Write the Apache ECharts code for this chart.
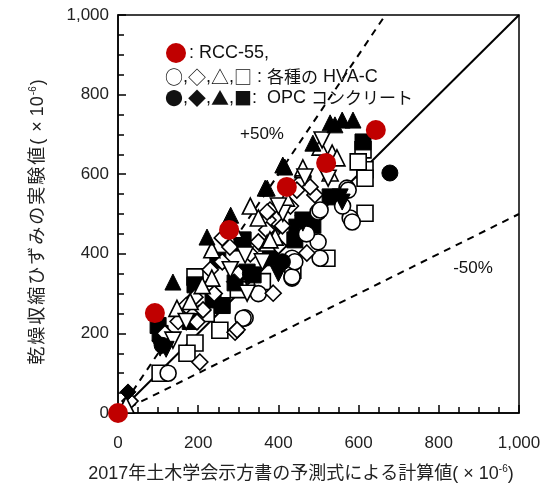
<!DOCTYPE html>
<html><head><meta charset="utf-8">
<script src="https://cdn.jsdelivr.net/npm/echarts@6/dist/echarts.min.js"></script>
<style>html,body{margin:0;padding:0;background:#fff}#c{width:548px;height:488px}</style>
</head><body><div id="c"></div>
<script>
const xTicks = [0, 200, 400, 600, 800, 1000];
const yTicks = [0, 200, 400, 600, 800, 1000];
const refLines = { equal: [[0,0],[1000,1000]], plus50: [[0,0],[666.7,1000]], minus50: [[0,0],[1000,500]] };

const rcc = [[0,0],[92,251],[277,460],[421,568],[519,628],[643,711]];

const hvaCircle = [[125,100],[317,239],[434,339],[434,389],[499,430],[504,389],[499,505],[579,490],[571,565],[574,560],[584,480],[434,342],[312,238],[504,510],[441,380],[470,450],[350,300],[560,520]];
const hvaDiamond = [[30,30],[117,200],[204,128],[292,203],[197,229],[212,259],[192,291],[387,301],[279,417],[374,485],[384,452],[454,578],[491,548],[379,510],[371,460],[471,402],[446,560],[479,568],[372,505],[297,209],[150,230],[170,270],[240,300],[260,380],[300,350],[330,400],[410,470],[430,520],[260,440],[230,360],[350,430],[400,420]];
const hvaTriangle = [[20,20],[147,263],[234,339],[234,410],[372,427],[392,442],[504,668],[534,653],[546,641],[461,611],[461,616],[529,603],[379,435],[210,320],[290,460],[330,520],[420,540],[350,490],[180,280]];
const hvaTriangleDown = [[137,183],[317,397],[322,301],[411,502],[509,686],[466,593],[524,590],[170,230],[280,360],[400,520],[360,380]];
const hvaSquare = [[105,100],[192,176],[172,150],[254,208],[192,342],[521,389],[436,359],[616,502],[611,661],[616,611],[616,590],[599,631],[300,310],[220,250],[360,330]];

const opcCircle = [[678,603],[110,170],[410,380],[330,350]];
const opcDiamond = [[25,53],[290,330]];
const opcTriangle = [[137,329],[222,442],[281,497],[367,565],[411,623],[372,565],[416,618],[486,678],[529,729],[541,724],[559,736],[586,736]];
const opcSquare = [[105,200],[192,322],[249,384],[309,427],[237,284],[292,327],[337,347],[529,543],[486,472],[441,435],[312,435],[322,354],[446,467],[611,681],[461,485],[100,220],[180,230],[260,270],[380,390]];
const opcTriangleDown = [[105,163],[559,530],[461,477],[554,543],[120,160],[400,350]];

const xTitle = '2017年土木学会示方書の予測式による計算値';
const yTitle = '乾燥収縮ひずみの実験値';

function openS(data, symbol, rot){
  return {type:'scatter', data, symbol, symbolSize:16, symbolRotate: rot||0, z:3,
    itemStyle:{color:'#fff', borderColor:'#000', borderWidth:1.6, opacity:1}};
}
function fillS(data, symbol, rot){
  return {type:'scatter', data, symbol, symbolSize:16, symbolRotate: rot||0, z:3,
    itemStyle:{color:'#000', borderColor:'#000', borderWidth:1, opacity:1}};
}
function refLine(data, type){
  return {type:'line', data, symbol:'none', z:2, silent:true,
    lineStyle:{color:'#000', width:2, type: type}};
}

const LAT = '"Liberation Sans", Arial, sans-serif';
const CJK = '"Liberation Sans", "Noto Sans CJK JP", sans-serif';
const chart = echarts.init(document.getElementById('c'));
const labelFont = {fontFamily:LAT, fontSize:17, color:'#222'};
const fmt = v => v === 1000 ? '1,000' : String(v);
const spaced = s => s.split('').map(ch => '{c|' + ch + '}').join('');

chart.setOption({
  animation:false,
  grid:{left:118, right:29, top:15, bottom:75, show:true, borderColor:'#000', borderWidth:1.5, backgroundColor:'transparent'},
  xAxis:{type:'value', min:xTicks[0], max:xTicks[xTicks.length-1], interval:200,
    axisLine:{lineStyle:{color:'#000', width:1.5}},
    axisTick:{inside:true, length:8, lineStyle:{color:'#000', width:1.5}},
    minorTick:{show:true, splitNumber:4, length:6, lineStyle:{color:'#000', width:1.5}},
    splitLine:{show:false},
    axisLabel:Object.assign({margin:22, formatter:fmt}, labelFont)
  },
  yAxis:{type:'value', min:yTicks[0], max:yTicks[yTicks.length-1], interval:200,
    axisLine:{lineStyle:{color:'#000', width:1.5}},
    axisTick:{inside:true, length:8, lineStyle:{color:'#000', width:1.5}},
    minorTick:{show:true, splitNumber:4, length:6, lineStyle:{color:'#000', width:1.5}},
    splitLine:{show:false},
    axisLabel:Object.assign({margin:9, formatter:fmt}, labelFont)
  },
  series:[
    refLine(refLines.equal, 'solid'),
    refLine(refLines.plus50, [7,6]),
    refLine(refLines.minus50, [7,6]),
    openS(hvaSquare,'rect'),
    fillS(opcSquare,'rect'),
    openS(hvaCircle,'circle'),
    openS(hvaDiamond,'diamond'),
    fillS(opcCircle,'circle'),
    openS(hvaTriangle,'triangle'),
    openS(hvaTriangleDown,'triangle',180),
    fillS(opcTriangleDown,'triangle',180),
    fillS(opcDiamond,'diamond'),
    fillS(opcTriangle,'triangle'),
    {type:'scatter', data:rcc, symbol:'circle', symbolSize:20, z:4, itemStyle:{color:'#c00000', opacity:1}}
  ],
  graphic:[
    {type:'circle', shape:{cx:176, cy:53, r:10}, style:{fill:'#c00000'}, z:10},
    {type:'text', x:189, y:53, z:10, style:{text:': RCC-55,', font:'18px ' + LAT, fill:'#111', verticalAlign:'middle'}},
    {type:'text', x:165, y:77, z:10, style:{
      text:'{g|○}{t|,}{g|◇}{t|,}{g|△}{t|,}{g|□}{t| : }{j|各種の}{t| HVA-C}',
      verticalAlign:'middle',
      rich:{g:{fontFamily:'"Noto Sans CJK JP"', fontSize:18, fill:'#111'},
            t:{fontFamily:LAT, fontSize:18, fill:'#111'},
            j:{fontFamily:'"Noto Sans CJK JP"', fontSize:17, fill:'#111'}}}},
    {type:'text', x:165, y:98, z:10, style:{
      text:'{g|●}{t|,}{g|◆}{t|,}{g|▲}{t|,}{g|■}{t|:  OPC }{j|コンクリート}',
      verticalAlign:'middle',
      rich:{g:{fontFamily:'"Noto Sans CJK JP"', fontSize:18, fill:'#111'},
            t:{fontFamily:LAT, fontSize:18, fill:'#111'},
            j:{fontFamily:'"Noto Sans CJK JP"', fontSize:17, fill:'#111'}}}},
    {type:'text', x:262, y:134, z:10, style:{text:'+50%', font:'17px ' + LAT, fill:'#111', align:'center', verticalAlign:'middle'}},
    {type:'text', x:473, y:268, z:10, style:{text:'-50%', font:'17px ' + LAT, fill:'#111', align:'center', verticalAlign:'middle'}},
    {type:'text', x:301, y:474, z:10, style:{
      text:'{t|' + xTitle + '}{t|( × 10}{s|-6}{t|)}', align:'center', verticalAlign:'middle',
      rich:{t:{fontFamily:CJK, fontSize:18, fill:'#222'},
            s:{fontFamily:LAT, fontSize:10, fill:'#222', padding:[0,0,9,0]}}}},
    {type:'text', x:38, y:222, rotation:Math.PI/2, z:10, style:{
      text: spaced(yTitle) + '{c|(}{c| × 10}{s|-6}{c|)}', align:'center', verticalAlign:'middle',
      rich:{c:{fontFamily:CJK, fontSize:18, fill:'#222', padding:[0,1,0,1]},
            s:{fontFamily:LAT, fontSize:10, fill:'#222', padding:[0,0,9,0]}}}}
  ]
});
</script></body></html>
